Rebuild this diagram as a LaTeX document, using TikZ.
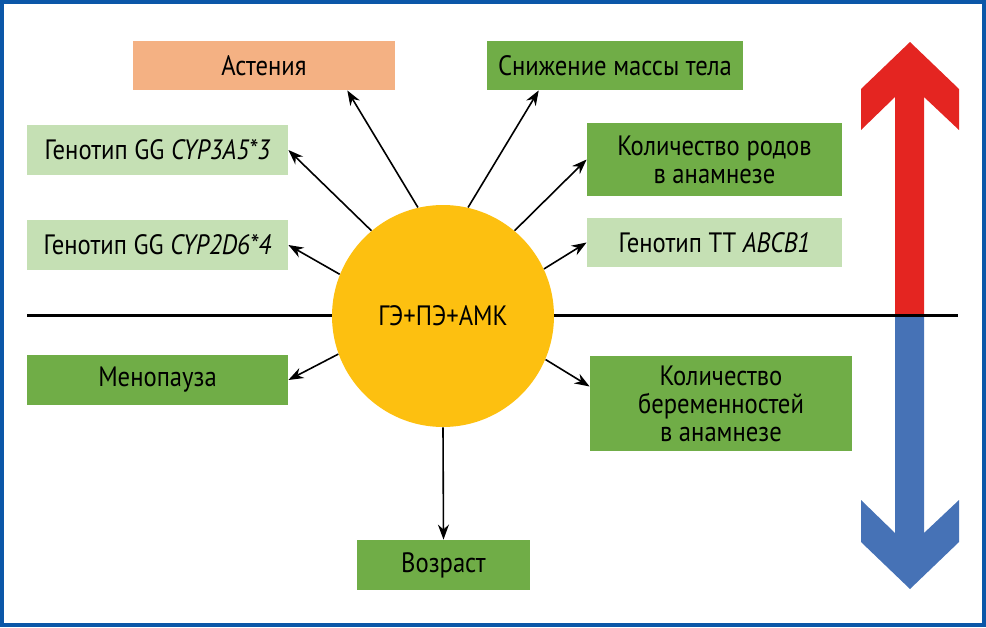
\documentclass[tikz,border=0pt]{standalone}
\usepackage{fontspec}
\setmainfont{PT Sans}[FakeStretch=0.88]
\usetikzlibrary{arrows.meta,calc}
\definecolor{frameblue}{HTML}{0B57A8}
\definecolor{sunny}{HTML}{FDC010}
\definecolor{darkgreen}{HTML}{70AD47}
\definecolor{palegreen}{HTML}{C5E0B4}
\definecolor{salmon}{HTML}{F4B183}
\definecolor{upred}{HTML}{E42521}
\definecolor{downblue}{HTML}{4672B6}
\tikzset{
  factor/.style={rectangle,inner sep=0pt,align=center,
    font=\fontsize{14}{14}\selectfont},
  wide/.style={minimum width=130.5pt,minimum height=25pt}
}
\begin{document}
\begin{tikzpicture}[x=0.5pt,y=-0.5pt]
\useasboundingbox (0,0) rectangle (986,627);
\draw[frameblue,line width=2pt] (2,2) rectangle (984,625);

% big arrows
\fill[upred] (910,42) -- (959,89) -- (959,130) -- (924,97) -- (924,315)
  -- (895,315) -- (895,97) -- (861,130) -- (861,89) -- cycle;
\fill[downblue] (910,589) -- (959,542) -- (959,500) -- (924,533) -- (924,315)
  -- (895,315) -- (895,533) -- (861,500) -- (861,542) -- cycle;

\coordinate (axisL) at (27,315);
\coordinate (axisR) at (958,315);
\draw[line width=1.5pt] (axisL) -- (axisR);

\node[circle,fill=sunny,minimum size=111pt,inner sep=0pt,
  font=\fontsize{14}{14}\selectfont] (ctr) at (443,316) {ГЭ+ПЭ+АМК};

\begin{scope}[every node/.style={factor}]
    \node[fill=salmon,minimum width=131pt,minimum height=24.5pt] (ast) at (264,65.5) {Астения};
    \node[fill=darkgreen,minimum width=128pt,minimum height=24.5pt] (mass) at (615,65.5) {Снижение массы тела};

    \node[fill=palegreen,wide] (cypa) at (157.5,150) {Генотип GG \textit{CYP3A5*3}};
    \node[fill=palegreen,wide] (cypd) at (157.5,245) {Генотип GG \textit{CYP2D6*4}};
    \node[fill=darkgreen,wide] (meno) at (157.5,380) {Менопауза};

    \node[fill=darkgreen,minimum width=127.5pt,minimum height=36.5pt] (births) at (714.5,159.5) {Количество родов\\в анамнезе};
    \node[fill=palegreen,minimum width=127.5pt,minimum height=24.5pt] (abcb) at (714.5,242.5) {Генотип ТТ \textit{ABCB1}};
    \node[fill=darkgreen,minimum width=131pt,minimum height=47.5pt] (preg) at (721,403.5) {Количество\\беременностей\\в анамнезе};

    \node[fill=darkgreen,minimum width=86.5pt,minimum height=25pt] (age) at (443.5,565) {Возраст};
\end{scope}

\begin{scope}[every edge/.style={draw=black,line width=0.8pt,
              -{Stealth[length=7.5pt,width=5.5pt]}}]
    \path (ctr.103) edge ($(ast.south west)!0.817!(ast.south east)$);
    \path (ctr.77) edge ($(mass.south west)!0.203!(mass.south east)$);
    \path (ctr.130) edge (cypa.east);
    \path (ctr.158) edge (cypd.east);
    \path (ctr.50) edge (births.west);
    \path (ctr.25) edge (abcb.west);
    \path (ctr.200) edge (meno.east);
    \path (ctr.-23) edge ([yshift=8.5pt]preg.west);
    \path (ctr.south) edge (age.north);
\end{scope}
\end{tikzpicture}
\end{document}
